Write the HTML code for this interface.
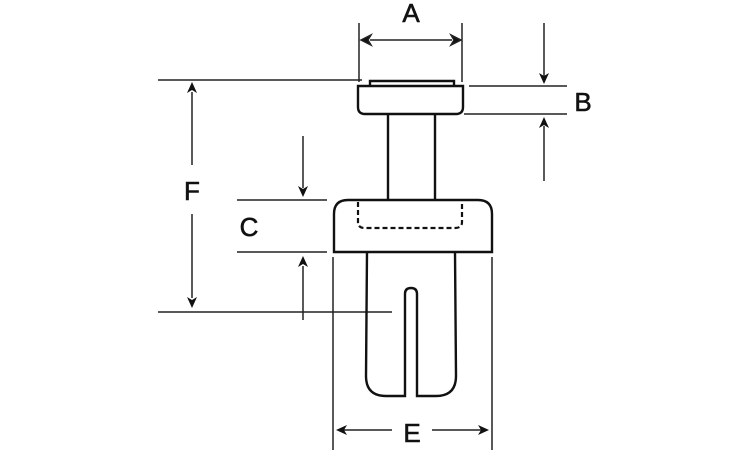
<!DOCTYPE html>
<html><head><style>body{margin:0;background:#fff}svg{display:block}</style></head><body>
<svg width="750" height="450" viewBox="0 0 750 450" xmlns="http://www.w3.org/2000/svg">
<g stroke="#222" stroke-width="1.5" fill="none">
<!-- A -->
<line x1="359" y1="23" x2="359" y2="82"/>
<line x1="462" y1="23" x2="462" y2="82"/>
<line x1="370" y1="40" x2="452" y2="40"/>
<path d="M361,40 l10,-5 l-3,5 l3,5z M461,40 l-10,-5 l3,5 l-3,5z" fill="#111"/>
<!-- F -->
<line x1="158" y1="80" x2="362" y2="80"/>
<line x1="192" y1="92" x2="192" y2="165"/>
<line x1="192" y1="214" x2="192" y2="298"/>
<path d="M192,82 l-5,11 l5,-3 l5,3z M192,308 l-5,-11 l5,3 l5,-3z" fill="#111" stroke="none"/>
<line x1="158" y1="312" x2="392" y2="312"/>
<!-- B -->
<line x1="469" y1="86" x2="567" y2="86"/>
<line x1="464" y1="114" x2="567" y2="114"/>
<line x1="544" y1="23" x2="544" y2="76"/>
<line x1="544" y1="126" x2="544" y2="181"/>
<path d="M544,84 l-5,-11 l5,3 l5,-3z M544,117 l-5,11 l5,-3 l5,3z" fill="#111" stroke="none"/>
<!-- C -->
<line x1="237" y1="200" x2="327" y2="200"/>
<line x1="237" y1="252" x2="327" y2="252"/>
<line x1="303" y1="136" x2="303" y2="188"/>
<line x1="303" y1="266" x2="303" y2="320"/>
<path d="M303,197 l-5,-11 l5,3 l5,-3z M303,256 l-5,11 l5,-3 l5,3z" fill="#111" stroke="none"/>
<!-- E -->
<line x1="333" y1="257" x2="333" y2="450"/>
<line x1="492" y1="257" x2="492" y2="450"/>
<line x1="344" y1="430" x2="392" y2="430"/>
<line x1="432" y1="430" x2="481" y2="430"/>
<path d="M336,430 l11,-5 l-3,5 l3,5z M489,430 l-11,-5 l3,5 l-3,5z" fill="#111" stroke="none"/>
</g>
<g stroke="#111" stroke-width="2.4" fill="none">
<path d="M370,86 L370,81 L454,81 L454,86"/>
<path d="M358,86 L463,86 L463,107 Q463,114 456,114 L365,114 Q358,114 358,107 Z"/>
<line x1="388" y1="114" x2="388" y2="200"/>
<line x1="435" y1="114" x2="435" y2="200"/>
<path d="M334,252 L334,214 Q334,200 348,200 L478,200 Q492,200 492,214 L492,252 Z"/>
<path d="M358,202 L358,222 Q358,228 365,228 L455,228 Q462,228 462,222 L462,202" stroke-dasharray="5,3" stroke-width="2.2"/>
<path d="M367,252 L366,376 Q366,396 386,396 L405,396 L405,294 Q405,288 411,288 Q417,288 417,294 L417,396 L436,396 Q456,396 456,376 L455,252"/>
</g>
<g font-family="Liberation Sans, sans-serif" font-size="26" fill="#111" text-anchor="middle" stroke="#111" stroke-width="0.6">
<text x="411" y="22">A</text>
<text x="583" y="111">B</text>
<text x="249" y="236">C</text>
<text x="192" y="200">F</text>
<text x="412" y="442">E</text>
</g>
</svg>
</body></html>
